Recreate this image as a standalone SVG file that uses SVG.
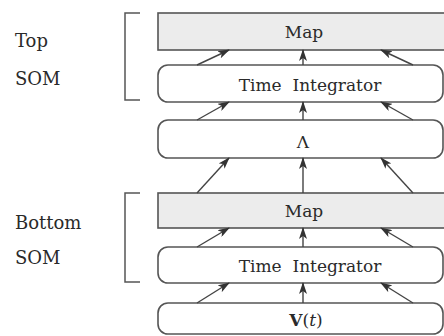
<svg xmlns="http://www.w3.org/2000/svg" width="444" height="336" viewBox="0 0 444 336">
<style>
text{font-family:"DejaVu Serif","Liberation Serif",serif;fill:#2a2a2a}
.lbl{font-size:18px}
.nt{font-size:17px;text-anchor:middle}
.map{fill:#ececec;stroke:#555;stroke-width:1.6}
.rb{fill:#fff;stroke:#555;stroke-width:1.6}
.br{fill:none;stroke:#555;stroke-width:1.5}
.ar{stroke:#444;stroke-width:1.4;fill:none;marker-end:url(#ah)}
</style>
<defs>
<marker id="ah" viewBox="0 0 12 8" refX="11" refY="4" markerWidth="12" markerHeight="8" markerUnits="userSpaceOnUse" orient="auto">
<path d="M0,0 L12,4 L0,8 L3,4 Z" fill="#333"/>
</marker>
</defs>
<g id="labels">
<text class="lbl" x="15" y="47">Top</text>
<text class="lbl" x="15" y="85">SOM</text>
<text class="lbl" x="15" y="229">Bottom</text>
<text class="lbl" x="15" y="264">SOM</text>
<path class="br" d="M140,13 H125 V100 H140"/>
<path class="br" d="M140,193 H125 V282 H140"/>
</g>
<g id="top-map">
<rect class="map" x="158" y="13" width="292" height="37"/>
<text class="nt" x="304" y="38">Map</text>
</g>
<g id="top-ti">
<rect class="rb" x="158" y="65" width="285" height="37" rx="10"/>
<text class="nt" x="310" y="91" xml:space="preserve">Time  Integrator</text>
</g>
<g id="lambda">
<rect class="rb" x="158" y="120" width="285" height="38" rx="10"/>
<text class="nt" x="303" y="148">Λ</text>
</g>
<g id="bottom-map">
<rect class="map" x="158" y="193" width="292" height="35"/>
<text class="nt" x="304" y="217">Map</text>
</g>
<g id="bottom-ti">
<rect class="rb" x="158" y="247" width="285" height="36" rx="10"/>
<text class="nt" x="310" y="272" xml:space="preserve">Time  Integrator</text>
</g>
<g id="input">
<rect class="rb" x="158" y="303" width="285" height="31" rx="10"/>
<text class="nt" x="306" y="326"><tspan font-weight="bold">V</tspan>(<tspan font-style="italic">t</tspan>)</text>
</g>
<g id="connectors">
<path class="ar" d="M197,65 L229,50"/><path class="ar" d="M303,65 V50"/><path class="ar" d="M413,65 L381,50"/>
<path class="ar" d="M197,120 L229,102"/><path class="ar" d="M303,120 V102"/><path class="ar" d="M413,120 L381,102"/>
<path class="ar" d="M197,193 L229,158"/><path class="ar" d="M303,193 V158"/><path class="ar" d="M413,193 L381,158"/>
<path class="ar" d="M197,247 L229,228"/><path class="ar" d="M303,247 V228"/><path class="ar" d="M413,247 L381,228"/>
<path class="ar" d="M197,303 L229,283"/><path class="ar" d="M303,303 V283"/><path class="ar" d="M413,303 L381,283"/>
</g>
</svg>
